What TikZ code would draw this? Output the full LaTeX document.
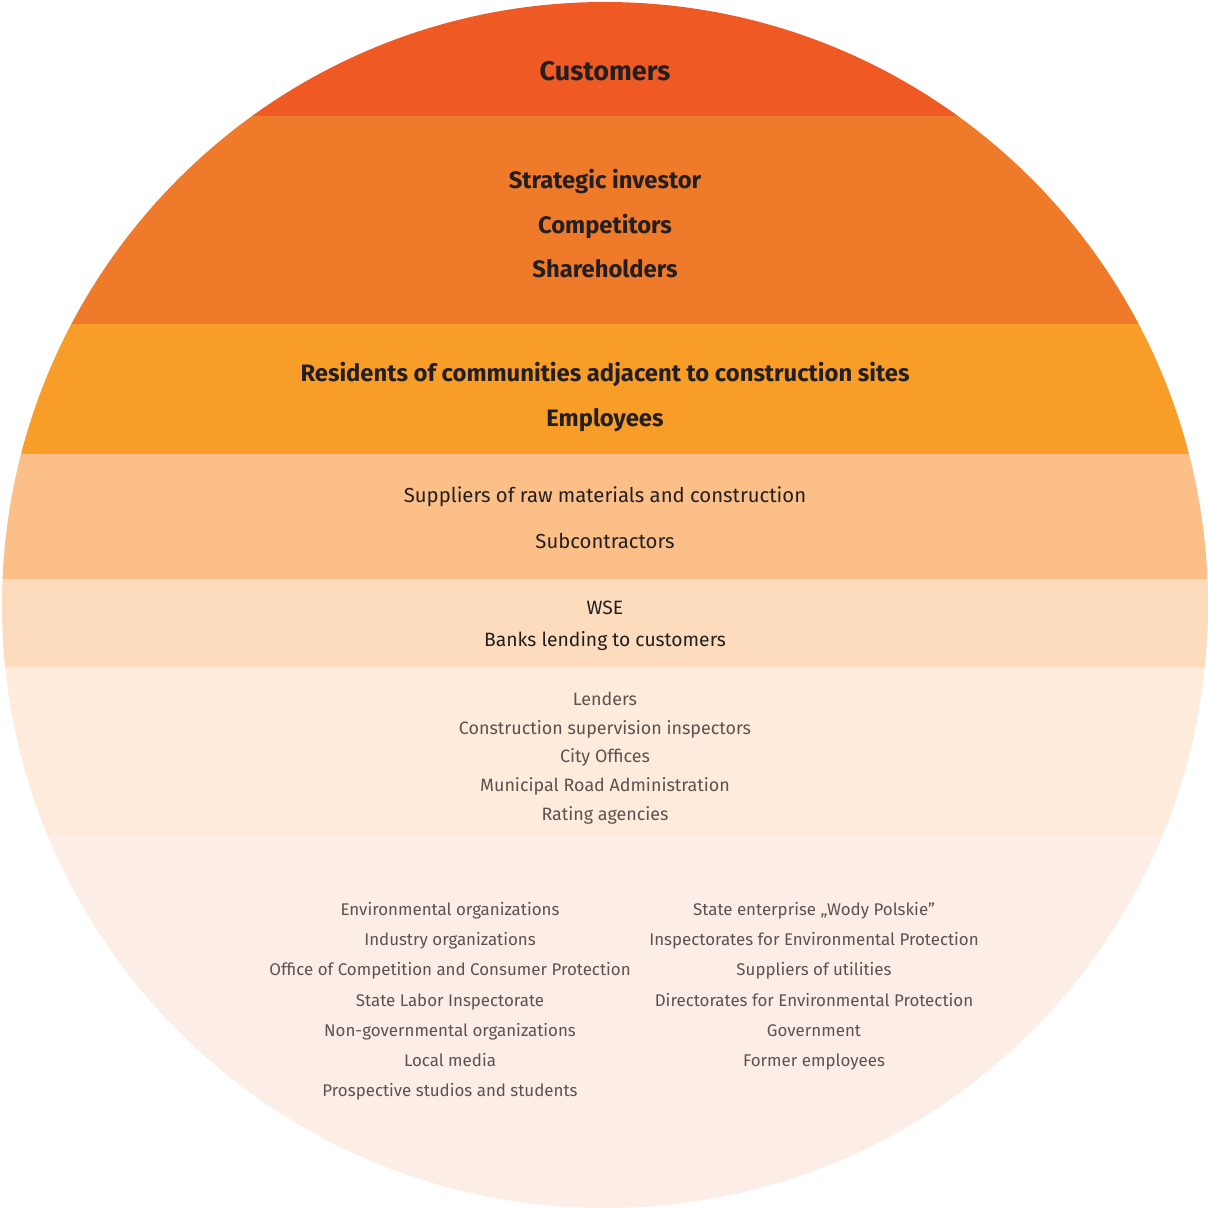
\documentclass[tikz,border=0pt]{standalone}
\usepackage{fontspec}
\setmainfont{Fira Sans}

\definecolor{ringA}{HTML}{EF5A24}
\definecolor{ringB}{HTML}{EF7A2A}
\definecolor{ringC}{HTML}{F89D27}
\definecolor{ringD}{HTML}{FBBF87}
\definecolor{ringE}{HTML}{FDDCBE}
\definecolor{ringF}{HTML}{FEEBDB}
\definecolor{ringG}{HTML}{FCEEE7}
\definecolor{ink}{HTML}{231F20}
\definecolor{softink}{HTML}{5A5351}

\tikzset{
	label text/.style={inner sep=0pt, text height=0.72em, text depth=0.22em},
	top/.style={label text, text=ink, font=\fontsize{27}{27}\selectfont\bfseries},
	strong/.style={label text, text=ink, font=\fontsize{23.8}{24}\selectfont\bfseries},
	plain/.style={label text, text=ink, font=\fontsize{20.3}{20}\selectfont},
	small/.style={label text, text=ink, font=\fontsize{19.3}{19}\selectfont},
	faint/.style={label text, text=softink, font=\fontsize{17.9}{18}\selectfont},
	tiny/.style={label text, text=softink, font=\fontsize{16.9}{17}\selectfont}
}

\begin{document}
\begin{tikzpicture}[x=1pt, y=-1pt]
	\useasboundingbox (0,0) rectangle (1208,1208);

	\begin{scope}
		\clip (605,605) circle (603);
		\fill[ringA] (0,0) rectangle (1208,116);
		\fill[ringB] (0,116) rectangle (1208,324);
		\fill[ringC] (0,324) rectangle (1208,454);
		\fill[ringD] (0,454) rectangle (1208,579);
		\fill[ringE] (0,579) rectangle (1208,667);
		\fill[ringF] (0,667) rectangle (1208,836);
		\fill[ringG] (0,836) rectangle (1208,1208);
	\end{scope}

	\node[top] (customers) at (605,78) {Customers};

	\node[strong] (investor) at (605,186) {Strategic investor};
	\node[strong] (competitors) at (605,231) {Competitors};
	\node[strong] (shareholders) at (605,275) {Shareholders};

	\node[strong] (residents) at (605,379) {Residents of communities adjacent to construction sites};
	\node[strong] (employees) at (605,424) {Employees};

	\node[plain] (suppliers) at (605,500) {Suppliers of raw materials and construction};
	\node[plain] (subcontractors) at (605,546) {Subcontractors};

	\node[small] (wse) at (605,612) {WSE};
	\node[small] (banks) at (605,644) {Banks lending to customers};

	\node[faint] (lenders) at (605,703) {Lenders};
	\node[faint] (inspectors) at (605,732) {Construction supervision inspectors};
	\node[faint] (offices) at (605,760) {City Offices};
	\node[faint] (roads) at (605,789) {Municipal Road Administration};
	\node[faint] (rating) at (605,818) {Rating agencies};

	% outer ring, two columns
	\foreach \txt [count=\i] in {Environmental organizations, Industry organizations,
		Office of Competition and Consumer Protection, State Labor Inspectorate,
		Non-governmental organizations, Local media, Prospective studios and students}
		\node[tiny] (left\i) at (450,{913+30.2*(\i-1)}) {\txt};

	\foreach \txt [count=\i] in {State enterprise „Wody Polskie”, Inspectorates for Environmental Protection,
		Suppliers of utilities, Directorates for Environmental Protection,
		Government, Former employees}
		\node[tiny] (right\i) at (814,{913+30.2*(\i-1)}) {\txt};

\end{tikzpicture}
\end{document}
